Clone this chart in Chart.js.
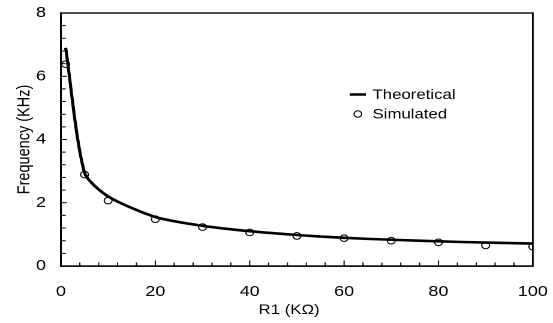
<!DOCTYPE html>
<html>
<head>
<meta charset="utf-8">
<script src="https://cdn.jsdelivr.net/npm/chart.js@4"></script>
<style>
  html, body { margin: 0; padding: 0; background: #fff; overflow: hidden; }
  /* the reference picture is stretched sideways, so the chart is drawn narrower and widened */
  #wrap { width: 461px; height: 323px; transform: scaleX(1.19957); transform-origin: 0 0; }
</style>
</head>
<body>
<div id="wrap"><canvas id="freq" width="461" height="323"></canvas></div>
<script>
// values
const theoryR = [1, 5, 10, 20, 30, 40, 50, 60, 70, 80, 90, 100];
const theoryF = [6.9, 2.95, 2.2, 1.55, 1.27, 1.1, 0.98, 0.89, 0.83, 0.78, 0.74, 0.71];
const simR = [1, 5, 10, 20, 30, 40, 50, 60, 70, 80, 90, 100];
const simF = [6.38, 2.89, 2.07, 1.48, 1.23, 1.06, 0.95, 0.88, 0.8, 0.75, 0.65, 0.61];
const xTicks = [0, 20, 40, 60, 80, 100];
const yTicks = [0, 2, 4, 6, 8];
const xMinorStep = 4;
const yMinorStep = 0.4;

const font = "Liberation Sans, Arial, sans-serif";

// inside ticks, box frame, x title and legend
const framePlugin = {
  id: "frame",
  afterDraw(chart) {
    const { ctx, chartArea: a, scales } = chart;
    ctx.save();
    ctx.strokeStyle = "#000";
    ctx.lineWidth = 1.4;
    ctx.strokeRect(a.left, a.top, a.right - a.left, a.bottom - a.top);
    ctx.lineWidth = 1;
    ctx.beginPath();
    for (let i = 1; i * xMinorStep < 100; i++) {
      const x = scales.x.getPixelForValue(i * xMinorStep);
      const len = i % 5 === 0 ? 5.5 : 3.5;
      ctx.moveTo(x, a.bottom);
      ctx.lineTo(x, a.bottom - len);
    }
    for (let i = 1; i * yMinorStep < 7.99; i++) {
      const y = scales.y.getPixelForValue(i * yMinorStep);
      const len = i % 5 === 0 ? 5 : 4;
      ctx.moveTo(a.left, y);
      ctx.lineTo(a.left + len, y);
    }
    ctx.stroke();

    ctx.fillStyle = "#000";
    ctx.font = "14px " + font;
    ctx.textBaseline = "middle";

    // x axis title sits a bit left of the plot centre in the reference
    ctx.textAlign = "center";
    ctx.fillText("R1 (K\u03A9)", 241, 310);

    // legend
    ctx.textAlign = "left";
    ctx.lineWidth = 2.5;
    ctx.beginPath();
    ctx.moveTo(291.5, 94.5);
    ctx.lineTo(305, 94.5);
    ctx.stroke();
    ctx.lineWidth = 1;
    ctx.beginPath();
    ctx.arc(298.3, 114, 3.2, 0, Math.PI * 2);
    ctx.stroke();
    ctx.fillText("Theoretical", 310.5, 95);
    ctx.fillText("Simulated", 310.5, 114.5);
    ctx.restore();
  }
};

new Chart(document.getElementById("freq"), {
  type: "scatter",
  data: {
    datasets: [
      {
        label: "Theoretical",
        data: theoryR.map((r, i) => ({ x: r, y: theoryF[i] })),
        showLine: true,
        borderColor: "#000",
        borderWidth: 2.6,
        pointRadius: 0,
        tension: 0.25,
        order: 2
      },
      {
        label: "Simulated",
        data: simR.map((r, i) => ({ x: r, y: simF[i] })),
        showLine: false,
        borderColor: "#000",
        backgroundColor: "rgba(0,0,0,0)",
        borderWidth: 1,
        pointRadius: 3.3,
        order: 1
      }
    ]
  },
  options: {
    responsive: false,
    animation: false,
    devicePixelRatio: 2,
    events: [],
    layout: { padding: { left: 0, top: 13, right: 16.8, bottom: 0 } },
    plugins: { legend: { display: false }, tooltip: { enabled: false } },
    scales: {
      x: {
        type: "linear",
        min: 0,
        max: 100,
        afterFit: (s) => { s.height = 57; s.paddingLeft = 0; s.paddingRight = 0; },
        afterBuildTicks: (s) => { s.ticks = xTicks.map((v) => ({ value: v })); },
        grid: { display: false },
        border: { display: true, color: "#000", width: 1.4 },
        ticks: { color: "#000", font: { family: font, size: 15 }, padding: 9, maxRotation: 0 }
      },
      y: {
        type: "linear",
        min: 0,
        max: 8,
        afterFit: (s) => { s.width = 50.8; s.paddingTop = 0; s.paddingBottom = 0; },
        afterBuildTicks: (s) => { s.ticks = yTicks.map((v) => ({ value: v })); },
        grid: { display: false, drawTicks: false },
        border: { display: true, color: "#000", width: 1.4 },
        ticks: { color: "#000", font: { family: font, size: 15 }, padding: 12.5 },
        title: {
          display: true,
          text: "Frequency (KHz)",
          color: "#000",
          font: { family: font, size: 14.5 },
          padding: { top: 12, bottom: 0 }
        }
      }
    }
  },
  plugins: [framePlugin]
});
</script>
</body>
</html>
